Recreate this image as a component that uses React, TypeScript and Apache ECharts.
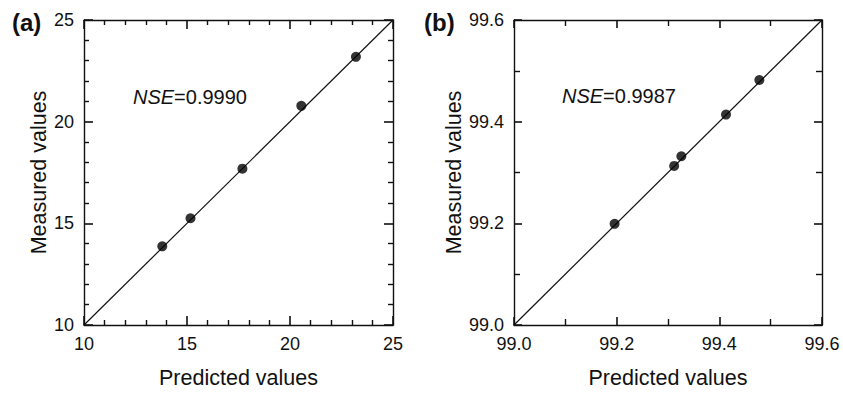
import React, { useEffect, useRef } from "react";
import * as echarts from "echarts";

// Panel (a)
const predictedA = [13.8, 15.17, 17.69, 20.55, 23.2];
const measuredA = [13.87, 15.25, 17.69, 20.78, 23.19];
const rangeA = [10, 25];
const nseA = "0.9990";

// Panel (b)
const predictedB = [99.196, 99.312, 99.326, 99.413, 99.478];
const measuredB = [99.199, 99.313, 99.332, 99.414, 99.482];
const rangeB = [99.0, 99.6];
const nseB = "0.9987";

const xName = "Predicted values";
const yName = "Measured values";

const FONT = "'Liberation Sans', Arial, sans-serif";
const INK = "#111";

export default function App() {
  const ref = useRef<HTMLDivElement>(null);
  useEffect(() => {
    document.body.style.margin = "0";
    const chart = echarts.init(ref.current!, undefined, { renderer: "svg" });

    const grids = [
      { left: 84, top: 20, width: 309, height: 308 },
      { left: 514, top: 20, width: 308, height: 308 },
    ];

    const mkAxis = (
      dim: "x" | "y",
      gridIndex: number,
      pos: string,
      range: number[],
      interval: number,
      minorSplit: number,
      majLen: number,
      minLen: number,
      showLabel: boolean,
      decimals: number
    ) => ({
      type: "value",
      gridIndex,
      position: pos,
      min: range[0],
      max: range[1],
      interval,
      name: showLabel ? (dim === "x" ? xName : yName) : "",
      nameLocation: "middle",
      nameGap: dim === "x" ? 42 : 34,
      nameTextStyle: { fontFamily: FONT, fontSize: 21.5, color: INK },
      axisLine: { show: true, onZero: false, lineStyle: { color: INK, width: 1.4 } },
      axisTick: { show: true, inside: true, length: majLen, lineStyle: { color: INK, width: 1.6 } },
      minorTick: { show: true, splitNumber: minorSplit, length: minLen, lineStyle: { color: INK, width: 1.4 } },
      splitLine: { show: false },
      minorSplitLine: { show: false },
      axisLabel: {
        show: showLabel,
        margin: 10,
        fontFamily: FONT,
        fontSize: 18,
        color: INK,
        showMinLabel: true,
        showMaxLabel: true,
        formatter: (v: number) => v.toFixed(decimals),
      },
    });

    const option = {
      animation: false,
      grid: grids,
      xAxis: [
        mkAxis("x", 0, "bottom", rangeA, 5, 5, 9, 5, true, 0),
        mkAxis("x", 0, "top", rangeA, 5, 5, 9, 5, false, 0),
        mkAxis("x", 1, "bottom", rangeB, 0.2, 2, 8, 6, true, 1),
        mkAxis("x", 1, "top", rangeB, 0.2, 2, 8, 6, false, 1),
      ],
      yAxis: [
        mkAxis("y", 0, "left", rangeA, 5, 5, 9, 5, true, 0),
        mkAxis("y", 0, "right", rangeA, 5, 5, 9, 5, false, 0),
        mkAxis("y", 1, "left", rangeB, 0.2, 2, 8, 6, true, 1),
        mkAxis("y", 1, "right", rangeB, 0.2, 2, 8, 6, false, 1),
      ],
      series: [
        {
          type: "line",
          xAxisIndex: 0,
          yAxisIndex: 0,
          data: [
            [rangeA[0], rangeA[0]],
            [rangeA[1], rangeA[1]],
          ],
          symbol: "none",
          lineStyle: { color: INK, width: 1.2 },
          z: 2,
        },
        {
          type: "scatter",
          xAxisIndex: 0,
          yAxisIndex: 0,
          data: predictedA.map((p, i) => [p, measuredA[i]]),
          symbol: "circle",
          symbolSize: 10,
          itemStyle: { color: "#000" },
          z: 3,
        },
        {
          type: "line",
          xAxisIndex: 2,
          yAxisIndex: 2,
          data: [
            [rangeB[0], rangeB[0]],
            [rangeB[1], rangeB[1]],
          ],
          symbol: "none",
          lineStyle: { color: INK, width: 1.2 },
          z: 2,
        },
        {
          type: "scatter",
          xAxisIndex: 2,
          yAxisIndex: 2,
          data: predictedB.map((p, i) => [p, measuredB[i]]),
          symbol: "circle",
          symbolSize: 10,
          itemStyle: { color: "#000" },
          z: 3,
        },
      ],
      graphic: [
        {
          type: "text",
          left: 12,
          top: 10,
          style: { text: "(a)", fontFamily: FONT, fontSize: 24, fontWeight: "bold", fill: INK },
        },
        {
          type: "text",
          left: 424,
          top: 10,
          style: { text: "(b)", fontFamily: FONT, fontSize: 24, fontWeight: "bold", fill: INK },
        },
        {
          type: "text",
          left: 133,
          top: 87,
          style: {
            text: "{i|NSE}=" + nseA,
            fontFamily: FONT,
            fontSize: 20,
            fill: INK,
            rich: { i: { fontStyle: "italic", fontFamily: FONT, fontSize: 20, fill: INK } },
          },
        },
        {
          type: "text",
          left: 562,
          top: 86,
          style: {
            text: "{i|NSE}=" + nseB,
            fontFamily: FONT,
            fontSize: 20,
            fill: INK,
            rich: { i: { fontStyle: "italic", fontFamily: FONT, fontSize: 20, fill: INK } },
          },
        },
      ],
    };

    chart.setOption(option as any);
    return () => chart.dispose();
  }, []);
  return <div ref={ref} style={{ width: 843, height: 394 }} />;
}
